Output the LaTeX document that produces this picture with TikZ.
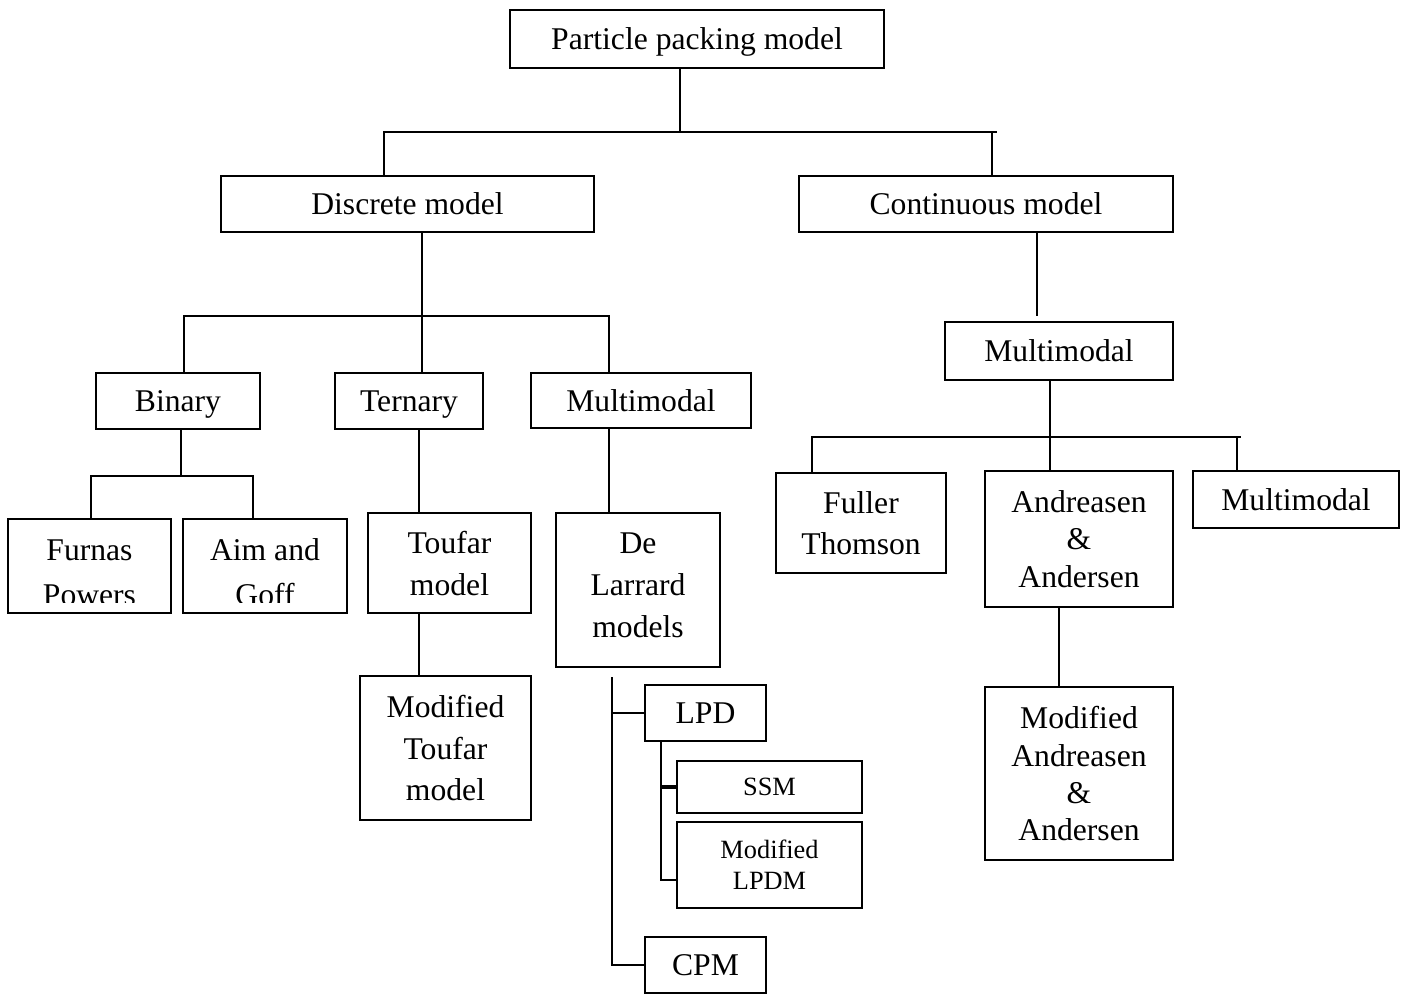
\documentclass[tikz,border=0pt]{standalone}
\usepackage{fontspec}
\setmainfont{Liberation Serif}
\tikzset{
  box/.style={draw, line width=1.2pt, align=center, inner sep=0pt, text depth=0pt,
    font=\fontsize{18}{23.8}\selectfont},
  tightbox/.style={box, font=\fontsize{18}{21.2}\selectfont},
  loosebox/.style={box, draw=none, outer sep=0pt, font=\fontsize{18}{25.5}\selectfont, text height=45.2pt},
  smallbox/.style={box, font=\fontsize{15}{17.6}\selectfont},
  link/.style={line width=1.1pt},
}
\begin{document}
\begin{tikzpicture}[x=0.02cm, y=-0.02cm]
\useasboundingbox (0,0) rectangle (1408,994);
% boxes
\node[box, minimum width=7.48cm, minimum height=1.16cm] (ppm) at (697,39) {Particle packing model};
\node[box, minimum width=7.46cm, minimum height=1.12cm] (discrete) at (407.5,204) {Discrete model};
\node[box, minimum width=7.48cm, minimum height=1.12cm] (continuous) at (986,204) {Continuous model};
\node[box, minimum width=3.28cm, minimum height=1.12cm] (binary) at (178,401) {Binary};
\node[box, minimum width=2.96cm, minimum height=1.12cm] (ternary) at (409,401) {Ternary};
\node[box, minimum width=4.40cm, minimum height=1.10cm] (dmulti) at (641,400.5) {Multimodal};
% second lines are cut off at the bottom
\begin{scope}
\clip (0,500) rectangle (360,602);
\node[loosebox, minimum width=3.26cm, minimum height=1.88cm] (furnas) at (89.5,566) {Furnas\\Powers};
\node[loosebox, minimum width=3.28cm, minimum height=1.88cm] (aim) at (265,566) {Aim and\\Goff};
\end{scope}
\draw[line width=1.2pt] (furnas.south west) rectangle (furnas.north east);
\draw[line width=1.2pt] (aim.south west) rectangle (aim.north east);
\node[box, minimum width=3.26cm, minimum height=2.00cm] (toufar) at (449.5,563) {Toufar\\model};
\node[box, minimum width=3.42cm, minimum height=2.88cm] (modtoufar) at (445.5,748) {Modified\\Toufar\\model};
\node[box, text depth=5.6pt, minimum width=3.28cm, minimum height=3.08cm] (larrard) at (638,590) {De\\Larrard\\models};
\node[box, minimum width=2.42cm, minimum height=1.12cm] (lpd) at (705.5,713) {LPD};
\node[smallbox, minimum width=3.70cm, minimum height=1.04cm] (ssm) at (769.5,787) {SSM};
\node[smallbox, minimum width=3.70cm, minimum height=1.72cm] (lpdm) at (769.5,865) {Modified\\LPDM};
\node[box, minimum width=2.42cm, minimum height=1.12cm] (cpm) at (705.5,965) {CPM};
\node[box, minimum width=4.56cm, minimum height=1.16cm] (cmulti) at (1059,351) {Multimodal};
\node[box, minimum width=3.40cm, minimum height=2.00cm] (fuller) at (861,523) {Fuller\\Thomson};
\node[tightbox, minimum width=3.76cm, minimum height=2.72cm] (andreasen) at (1079,539) {Andreasen\\\&\\Andersen};
\node[box, minimum width=4.12cm, minimum height=1.14cm] (rmulti) at (1296,499.5) {Multimodal};
\node[tightbox, minimum width=3.76cm, minimum height=3.46cm] (modand) at (1079,773.5) {Modified\\Andreasen\\\&\\Andersen};
% junctions
\coordinate (top) at (680,132);
\coordinate (topl) at (384,132);
\coordinate (topr) at (992,132);
\coordinate (dis) at (422,316);
\coordinate (disl) at (184,316);
\coordinate (disr) at (609,316);
\coordinate (bin) at (181,476);
\coordinate (binl) at (91,476);
\coordinate (binr) at (253,476);
\coordinate (spine) at (612,677);
\coordinate (conend) at (1037,316);
\coordinate (cm) at (1050,437);
\coordinate (cml) at (812,437);
\coordinate (cmr) at (1237,437);
% connectors
\draw[link] (ppm.south -| top) -- (top);
\draw[link] (discrete.north -| topl) -- (topl) -- ([xshift=3pt]topr) ;
\draw[link] (topr) -- (continuous.north -| topr);
\draw[link] (discrete.south -| dis) -- (dis);
\draw[link] (binary.north -| disl) -- (disl) -- (disr) -- (dmulti.north -| disr);
\draw[link] (dis) -- (ternary.north -| dis);
\draw[link] (binary.south -| bin) -- (bin);
\draw[link] (furnas.north -| binl) -- (binl) -- (binr) -- (aim.north -| binr);
\draw[link] (ternary.south -| 419,0) -- (toufar.north -| 419,0);
\draw[link] (toufar.south -| 419,0) -- (modtoufar.north -| 419,0);
\draw[link] (dmulti.south -| disr) -- (larrard.north -| disr);
\draw[link] (spine) |- (cpm.west);
\draw[link] (spine |- lpd.west) -- (lpd.west);
\draw[link] (lpd.south -| 661,0) |- (0,880 -| lpdm.west);
\draw[link, line width=2pt] (ssm.west -| 661,0) -- (ssm.west);
\draw[link] (continuous.south -| conend) -- (conend);
\draw[link] (cmulti.south -| cm) -- (cm);
\draw[link] (fuller.north -| cml) -- (cml) -- ([xshift=2pt]cmr);
\draw[link] (cmr) -- (rmulti.north -| cmr);
\draw[link] (cm) -- (andreasen.north -| cm);
\draw[link] (andreasen.south -| 1059,0) -- (modand.north -| 1059,0);
\end{tikzpicture}
\end{document}
